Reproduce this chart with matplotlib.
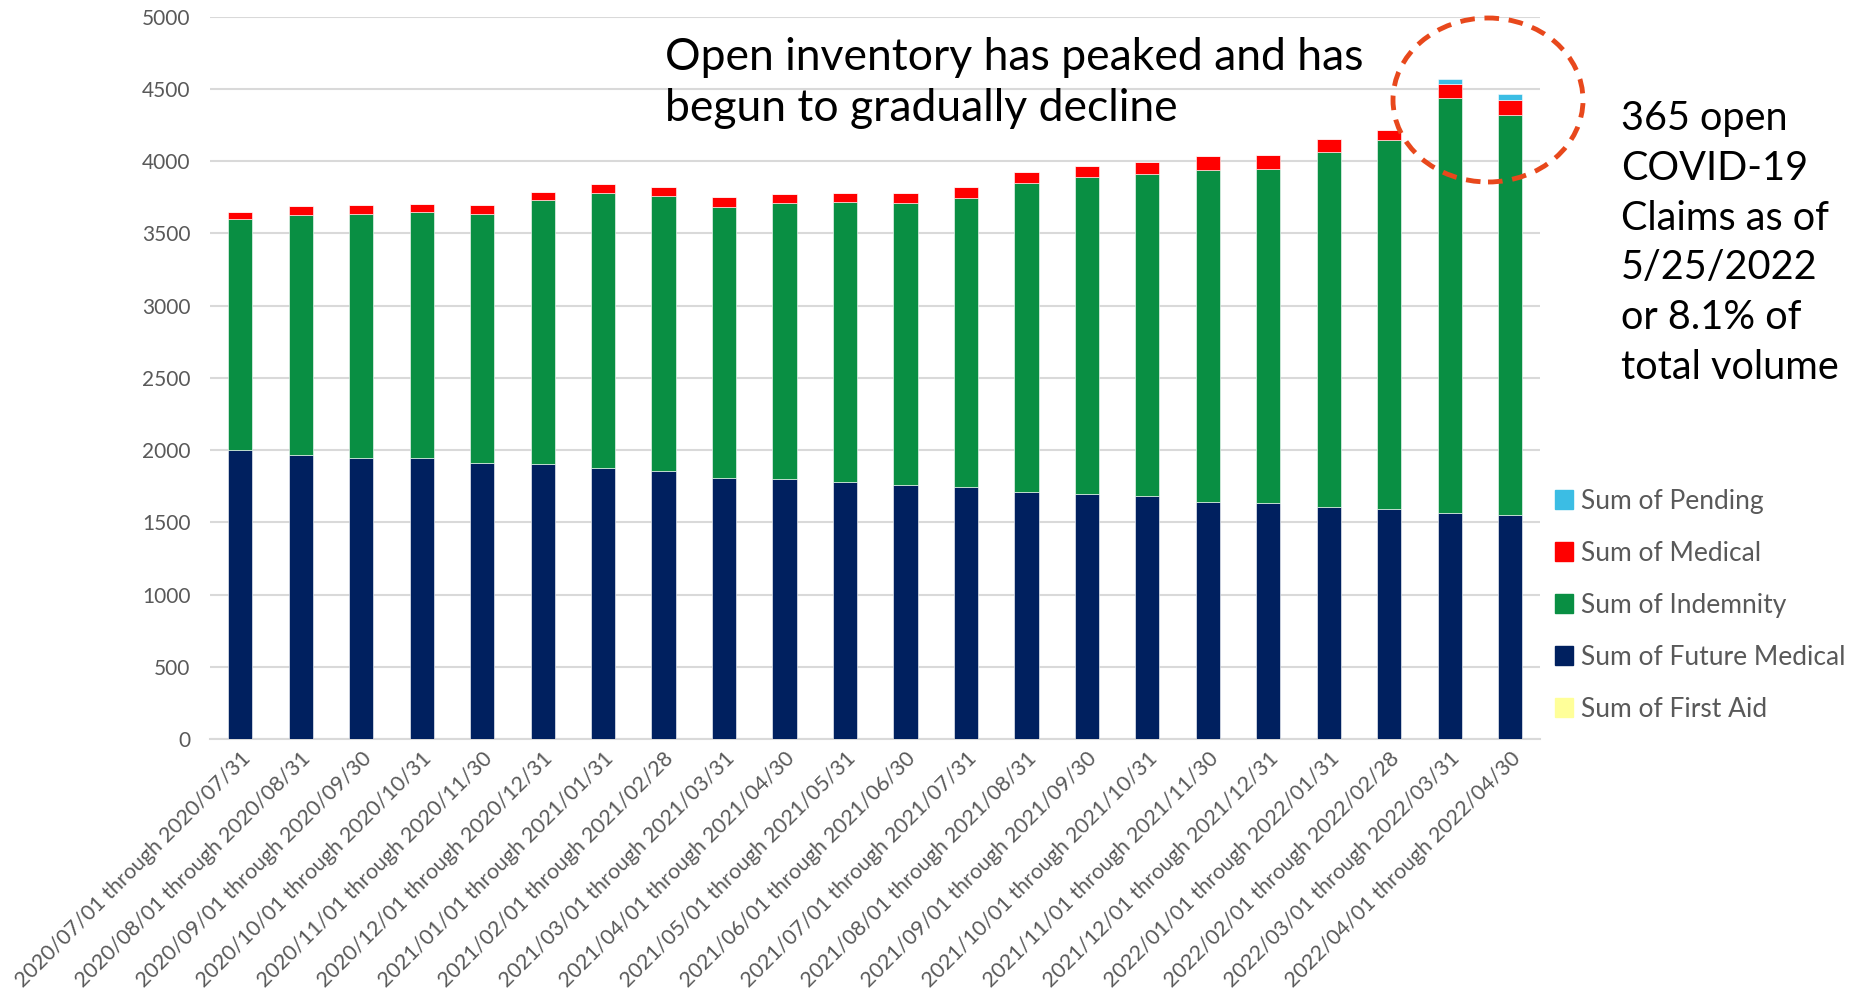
import numpy as np
import matplotlib.pyplot as plt
from matplotlib.patches import Ellipse, Patch

plt.rcParams['font.family'] = ['Lato', 'DejaVu Sans']

months = ["2020/07/01 through 2020/07/31", "2020/08/01 through 2020/08/31",
          "2020/09/01 through 2020/09/30", "2020/10/01 through 2020/10/31",
          "2020/11/01 through 2020/11/30", "2020/12/01 through 2020/12/31",
          "2021/01/01 through 2021/01/31", "2021/02/01 through 2021/02/28",
          "2021/03/01 through 2021/03/31", "2021/04/01 through 2021/04/30",
          "2021/05/01 through 2021/05/31", "2021/06/01 through 2021/06/30",
          "2021/07/01 through 2021/07/31", "2021/08/01 through 2021/08/31",
          "2021/09/01 through 2021/09/30", "2021/10/01 through 2021/10/31",
          "2021/11/01 through 2021/11/30", "2021/12/01 through 2021/12/31",
          "2022/01/01 through 2022/01/31", "2022/02/01 through 2022/02/28",
          "2022/03/01 through 2022/03/31", "2022/04/01 through 2022/04/30"]

first_aid = [0] * 22
future_medical = [2000, 1968, 1945, 1945, 1911, 1903, 1875, 1853, 1804, 1799, 1782,
                  1757, 1741, 1713, 1694, 1683, 1637, 1630, 1609, 1595, 1567, 1553]
indemnity = [1597, 1661, 1687, 1700, 1725, 1828, 1901, 1904, 1879, 1912, 1933,
             1954, 2004, 2134, 2194, 2231, 2303, 2312, 2451, 2549, 2873, 2769]
medical = [53, 60, 62, 56, 60, 58, 69, 67, 67, 64, 65,
           69, 74, 79, 81, 77, 95, 100, 90, 74, 95, 104]
pending = [0, 0, 0, 0, 0, 0, 0, 0, 0, 0, 0,
           0, 0, 0, 0, 0, 0, 0, 0, 0, 32, 42]

series = [("Sum of First Aid", first_aid, "#FFFF99"),
          ("Sum of Future Medical", future_medical, "#00205F"),
          ("Sum of Indemnity", indemnity, "#098F43"),
          ("Sum of Medical", medical, "#FF0000"),
          ("Sum of Pending", pending, "#3BBDE4")]

grey = "#595959"
fig = plt.figure(figsize=(18.62, 9.97), dpi=100)
ax = fig.add_axes([0.1128, 0.2588, 0.7145, 0.7245])

x = np.arange(len(months))
bottom = np.zeros(len(months))
for name, vals, col in series:
    vals = np.array(vals, dtype=float)
    ax.bar(x, vals, 0.4, bottom=bottom, color=col, edgecolor="white",
           linewidth=0.4, zorder=3)
    bottom += vals

ax.set_xlim(-0.5, len(months) - 0.5)
ax.set_ylim(0, 5000)
ax.set_yticks(np.arange(0, 5001, 500))
ax.yaxis.grid(True, color="#D9D9D9", linewidth=1.5, zorder=0)
for s in ["top", "right", "left"]:
    ax.spines[s].set_visible(False)
ax.spines["bottom"].set_color("#D9D9D9")
ax.spines["bottom"].set_linewidth(1.5)
ax.tick_params(length=0, labelcolor=grey)
ax.tick_params(axis="y", pad=14, labelsize=15)
ax.set_xticks(x)
ax.set_xticklabels(months, rotation=45, ha="right", rotation_mode="anchor")
ax.tick_params(axis="x", pad=7, labelsize=15.5)

# legend, top to bottom as in the chart
handles = [Patch(color=col, label=name) for name, vals, col in reversed(series)]
fig.legend(handles=handles, loc="center left", bbox_to_anchor=(0.835, 0.393),
           frameon=False, fontsize=19, labelcolor=grey, handlelength=0.7,
           handleheight=0.7, handletextpad=0.3, labelspacing=1.02,
           borderpad=0, borderaxespad=0)

fig.text(0.357, 0.963, "Open inventory has peaked and has\nbegun to gradually decline",
         fontsize=32, va="top", ha="left", color="black", linespacing=1.3)
fig.text(1365 * 1.1875 / 1862, 0.9,
         "365 open\nCOVID-19\nClaims as of\n5/25/2022\nor 8.1% of\ntotal volume",
         fontsize=28.5, va="top", ha="left", color="black", linespacing=1.43)

ell = Ellipse((1488 / 1862, 1 - 100 / 997), 190 / 1862, 164 / 997,
              transform=fig.transFigure, fill=False, edgecolor="#E8481C",
              linewidth=3.5, linestyle=(0, (3, 2)))
fig.add_artist(ell)

fig.savefig("out.png", dpi=100)
